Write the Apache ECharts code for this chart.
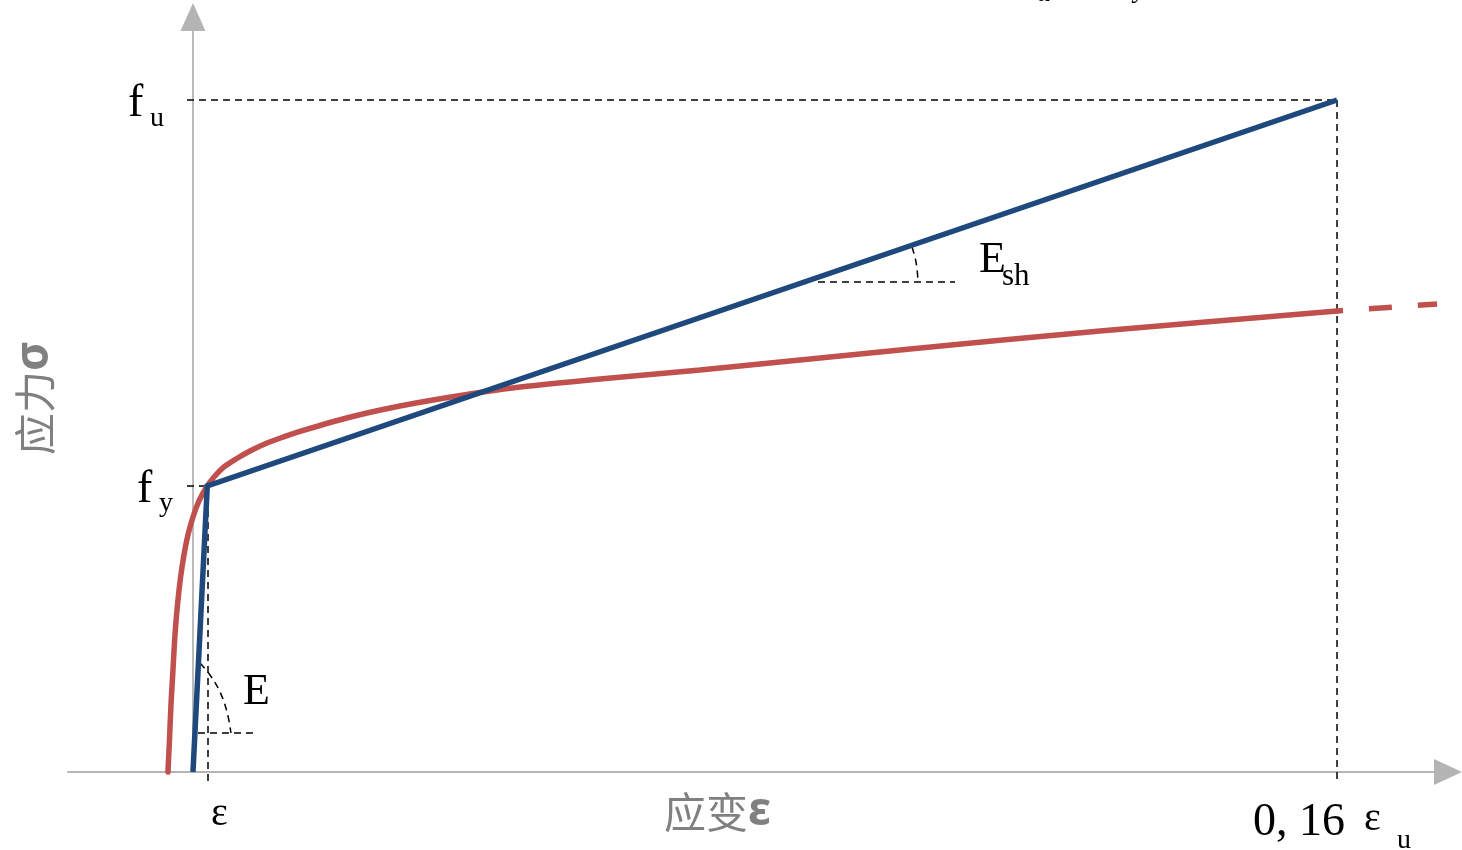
<!DOCTYPE html>
<html>
<head>
<meta charset="utf-8">
<script src="https://cdn.jsdelivr.net/npm/echarts@6/dist/echarts.min.js"></script>
<style>
html,body{margin:0;padding:0;background:#fff;}
#chart{width:1462px;height:850px;}
</style>
</head>
<body>
<div id="chart"></div>
<script>
// ---- data (strain in arbitrary units, stress in % of f_u) ----
const fu = 100;
const fy = 42.56;
const epsY = 0.2;
const epsU = 16;

// blue bilinear model
const bilinear = [[0, 0], [epsY, fy], [epsU, fu]];

// red measured-like curve (solid part)
const curve = [
  [-0.350, 0], [-0.329, 4.76], [-0.308, 9.97], [-0.280, 15.18], [-0.252, 20.39],
  [-0.217, 24.85], [-0.175, 28.87], [-0.126, 32.29], [-0.070, 35.27], [0.000, 37.95],
  [0.084, 40.33], [0.182, 42.26], [0.294, 43.90], [0.434, 45.39], [0.601, 46.58],
  [0.797, 47.77], [1.035, 48.96], [1.287, 49.93], [1.497, 50.67], [1.916, 52.01],
  [2.434, 53.42], [2.895, 54.46], [3.357, 55.36], [4.056, 56.55], [4.573, 57.29],
  [5.692, 58.48], [7.091, 59.82], [9.888, 62.80], [12.685, 65.63], [16.0, 68.60]
];
// red curve continuation (dashed)
const curveTail = [[16.0, 68.60], [17.399, 69.64]];

// guide lines
const fuHoriz = [[-0.084, fu], [epsU, fu]];
const fuVert = [[epsU, fu], [epsU, -1.04]];
const fyHoriz = [[-0.084, fy], [epsY, fy]];
const eyVert = [[0.21, fy], [0.21, -1.64]];
const eBase = [[0.07, 5.80], [0.909, 5.80]];
const eArc = [[0.098, 16.22], [0.238, 14.43], [0.378, 11.90], [0.476, 8.93], [0.531, 5.80]];
const eshBase = [[8.741, 72.92], [10.657, 72.92]];
const eshArc = [[10.056, 78.13], [10.112, 75.89], [10.140, 73.07]];

const guides = [fuHoriz, fuVert, fyHoriz, eyVert, eBase, eArc, eshBase, eshArc];

// ---- chart ----
const chart = echarts.init(document.getElementById('chart'), null, {renderer: 'canvas'});
const serif = "'Liberation Serif','DejaVu Serif',serif";
const cjk = "'Noto Sans CJK SC','Noto Sans',sans-serif";
const greek = "'Noto Sans','DejaVu Sans',sans-serif";

function txt(text, x, y, size, opts) {
  opts = opts || {};
  return {
    type: 'text', x: x, y: y, rotation: opts.rotation || 0, z: 100,
    style: {
      text: text,
      fontFamily: opts.family || serif,
      fontSize: size,
      fontStyle: opts.italic ? 'italic' : 'normal',
      fontWeight: opts.weight || 'normal',
      fill: opts.color || '#000',
      align: opts.align || 'left',
      verticalAlign: 'middle',
      rich: opts.rich
    }
  };
}

const guideSeries = guides.map(function (seg) {
  return {
    type: 'line', data: seg, showSymbol: false, symbol: 'none', clip: false,
    smooth: seg.length > 2 ? 0.4 : false, silent: true, z: 2,
    lineStyle: {color: '#000', width: 1.5, type: [7, 5]}
  };
});

const nameRich = {
  c: {fontFamily: cjk, fontSize: 42, fill: '#808080'},
  g: {fontFamily: greek, fontWeight: 'bold', fontSize: 46, fill: '#808080'}
};

chart.setOption({
  animation: false,
  backgroundColor: '#fff',
  grid: {left: 68, right: 14, top: 17, bottom: 78},
  xAxis: {
    type: 'value', min: -1.748, max: 17.552,
    axisLine: {show: true, onZero: true, symbol: ['none', 'triangle'], symbolSize: [26, 28],
      lineStyle: {color: '#b4b4b4', width: 1.8}},
    axisTick: {show: false}, axisLabel: {show: false}, splitLine: {show: false}
  },
  yAxis: {
    type: 'value', min: 0, max: 112.35,
    axisLine: {show: true, onZero: true, symbol: ['none', 'triangle'], symbolSize: [25, 28],
      lineStyle: {color: '#b4b4b4', width: 1.8}},
    axisTick: {show: false}, axisLabel: {show: false}, splitLine: {show: false}
  },
  series: guideSeries.concat([
    {
      type: 'line', data: curve, showSymbol: false, symbol: 'none', smooth: 0.3, clip: false, z: 3,
      lineStyle: {color: '#c0504d', width: 5.5, cap: 'round'}
    },
    {
      type: 'line', data: curveTail, showSymbol: false, symbol: 'none', clip: false, z: 3,
      lineStyle: {color: '#c0504d', width: 5.5, type: [23, 26], dashOffset: 17}
    },
    {
      type: 'line', data: bilinear, showSymbol: false, symbol: 'none', clip: false, z: 4,
      lineStyle: {color: '#1f497d', width: 5.5, join: 'miter'}
    }
  ]),
  graphic: [
    txt('f', 128, 104, 46),
    txt('u', 150, 119, 28),
    txt('f', 137, 490, 46),
    txt('y', 159, 504, 28),
    txt('E', 243, 692, 44),
    txt('E', 979, 260, 44),
    txt('sh', 1002, 277, 31),
    txt('ε', 211, 814, 40),
    txt('0, 16', 1253, 823, 46),
    txt('ε', 1364, 819, 40),
    txt('u', 1397, 841, 28),
    txt('u', 1037, -6, 28, {italic: true}),
    txt('y', 1134, -10, 28, {italic: true}),
    txt('{c|应变}{g|ε}', 664, 812, 42, {family: cjk, color: '#808080', rich: nameRich}),
    txt('{c|应力}{g|σ}', 35, 398, 42, {family: cjk, color: '#808080', align: 'center',
      rotation: Math.PI / 2, rich: nameRich})
  ]
});
</script>
</body>
</html>
